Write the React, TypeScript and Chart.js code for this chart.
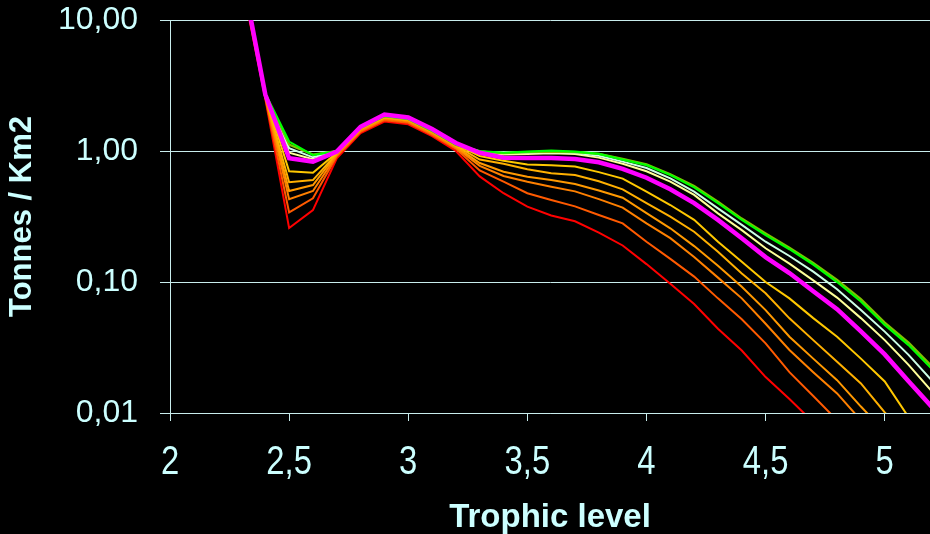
import React, { useEffect, useRef } from "react";
import { Chart, registerables } from "chart.js";

Chart.register(...registerables);

// Trophic levels sampled every 0.1
const TROPHIC_LEVELS = [
  2.3, 2.4, 2.5, 2.6, 2.7, 2.8, 2.9, 3.0, 3.1, 3.2, 3.3, 3.4, 3.5, 3.6, 3.7,
  3.8, 3.9, 4.0, 4.1, 4.2, 4.3, 4.4, 4.5, 4.6, 4.7, 4.8, 4.9, 5.0, 5.1, 5.2,
];

// Biomass (tonnes / km2) per trophic level for each scenario
const SERIES_RED = [
  20, 2.5, 0.258, 0.354, 0.88, 1.37, 1.68, 1.6, 1.3, 1.0, 0.64, 0.476, 0.376, 0.322, 0.291,
  0.238, 0.19, 0.137, 0.097, 0.068, 0.044, 0.03, 0.0188, 0.0128, 0.0085, 0.0056, 0.0036, 0.0023, 0.0015, 0.001,
];
const SERIES_ORANGE_RED = [
  21, 2.55, 0.34, 0.435, 0.91, 1.4, 1.72, 1.64, 1.33, 1.04, 0.71, 0.583, 0.476, 0.423, 0.378,
  0.325, 0.28, 0.203, 0.15, 0.11, 0.075, 0.052, 0.034, 0.0205, 0.0135, 0.0088, 0.0057, 0.0037, 0.0024, 0.0016,
];
const SERIES_ORANGE = [
  21.5, 2.6, 0.428, 0.495, 0.93, 1.43, 1.76, 1.68, 1.36, 1.06, 0.77, 0.644, 0.583, 0.534, 0.492,
  0.429, 0.37, 0.28, 0.216, 0.155, 0.108, 0.075, 0.048, 0.0303, 0.0205, 0.0141, 0.0088, 0.0055, 0.0035, 0.0022,
];
const SERIES_DARK_AMBER = [
  22, 2.62, 0.495, 0.55, 0.95, 1.46, 1.79, 1.71, 1.39, 1.08, 0.81, 0.695, 0.636, 0.6, 0.56,
  0.5, 0.44, 0.336, 0.257, 0.188, 0.133, 0.092, 0.061, 0.0382, 0.026, 0.0178, 0.0112, 0.0072, 0.0046, 0.003,
];
const SERIES_AMBER = [
  22.5, 2.64, 0.577, 0.6, 0.96, 1.48, 1.81, 1.73, 1.41, 1.1, 0.86, 0.8, 0.725, 0.676, 0.656,
  0.588, 0.51, 0.4, 0.315, 0.242, 0.17, 0.116, 0.082, 0.0528, 0.036, 0.0246, 0.0168, 0.0101, 0.0065, 0.0042,
];
const SERIES_YELLOW = [
  23, 2.66, 0.7, 0.683, 0.97, 1.5, 1.84, 1.75, 1.43, 1.12, 0.916, 0.843, 0.79, 0.78, 0.76,
  0.69, 0.615, 0.49, 0.387, 0.298, 0.203, 0.143, 0.1, 0.075, 0.053, 0.0382, 0.026, 0.0174, 0.0093, 0.006,
];
const SERIES_MAGENTA = [
  24, 2.7, 0.88, 0.83, 0.99, 1.53, 1.9, 1.8, 1.47, 1.15, 0.97, 0.89, 0.885, 0.885, 0.87,
  0.82, 0.73, 0.625, 0.51, 0.4, 0.298, 0.216, 0.155, 0.117, 0.085, 0.062, 0.042, 0.028, 0.0175, 0.011,
];
const SERIES_PALE_YELLOW = [
  23.5, 2.7, 0.97, 0.864, 0.99, 1.52, 1.87, 1.78, 1.45, 1.14, 0.98, 0.94, 0.95, 0.96, 0.95,
  0.89, 0.8, 0.7, 0.583, 0.462, 0.334, 0.249, 0.181, 0.138, 0.103, 0.076, 0.053, 0.036, 0.0233, 0.0145,
];
const SERIES_PALE_CYAN = [
  23, 2.72, 1.05, 0.895, 1.0, 1.52, 1.86, 1.77, 1.44, 1.13, 0.99, 0.96, 0.97, 0.98, 0.97,
  0.92, 0.83, 0.742, 0.619, 0.489, 0.365, 0.273, 0.203, 0.158, 0.12, 0.088, 0.061, 0.0418, 0.0278, 0.0175,
];
const SERIES_GREEN = [
  22.5, 2.75, 1.18, 0.93, 1.0, 1.51, 1.85, 1.76, 1.43, 1.12, 1.0, 0.97, 0.99, 1.005, 0.99,
  0.95, 0.86, 0.78, 0.656, 0.528, 0.4, 0.298, 0.228, 0.178, 0.136, 0.1, 0.071, 0.047, 0.033, 0.0215,
];
const SERIES_OLIVE = [
  22, 2.73, 1.12, 0.94, 1.0, 1.5, 1.84, 1.75, 1.42, 1.11, 0.99, 0.965, 0.98, 0.99, 0.98,
  0.95, 0.87, 0.79, 0.665, 0.54, 0.41, 0.305, 0.235, 0.183, 0.14, 0.104, 0.074, 0.049, 0.0345, 0.0225,
];

const X_TICKS = [2, 2.5, 3, 3.5, 4, 4.5, 5];
const Y_TICKS = [0.01, 0.1, 1, 10];

const TEXT_COLOR = "#CCFFFF";
const AXIS_COLOR = "#C8ECEC";
const FONT = "'Liberation Sans', Arial, sans-serif";

// first dataset is painted on top
const LINES: { values: number[]; color: string; width: number }[] = [
  { values: SERIES_MAGENTA, color: "#FF00FF", width: 4.5 },
  { values: SERIES_GREEN, color: "#00FF00", width: 2.2 },
  { values: SERIES_OLIVE, color: "#80C000", width: 2.2 },
  { values: SERIES_PALE_CYAN, color: "#CCFFE6", width: 2 },
  { values: SERIES_PALE_YELLOW, color: "#FFFF99", width: 2 },
  { values: SERIES_YELLOW, color: "#FFC800", width: 2 },
  { values: SERIES_AMBER, color: "#FFB000", width: 2 },
  { values: SERIES_DARK_AMBER, color: "#FF9900", width: 2 },
  { values: SERIES_ORANGE, color: "#FF8000", width: 2 },
  { values: SERIES_ORANGE_RED, color: "#FF5A00", width: 2 },
  { values: SERIES_RED, color: "#FF0000", width: 2 },
];

const comma = (s: string) => s.replace(".", ",");

// x tick labels are set in a condensed face: the regular face squeezed horizontally
const condensedXLabels = {
  id: "condensedXLabels",
  afterDraw(chart: any) {
    const scale = chart.scales.x;
    const ctx = chart.ctx as CanvasRenderingContext2D;
    ctx.save();
    ctx.fillStyle = TEXT_COLOR;
    ctx.font = `40px ${FONT}`;
    ctx.textAlign = "center";
    ctx.textBaseline = "middle";
    const y = scale.top + 50;
    for (const t of scale.ticks) {
      const px = scale.getPixelForValue(t.value);
      ctx.save();
      ctx.translate(px, y);
      ctx.scale(0.82, 1);
      ctx.fillText(comma(String(t.value)), 0, 0);
      ctx.restore();
    }
    ctx.restore();
  },
};

export default function App() {
  const canvasRef = useRef<HTMLCanvasElement | null>(null);

  useEffect(() => {
    const canvas = canvasRef.current;
    if (!canvas) return;
    const chart = new Chart(canvas, {
      type: "line",
      data: {
        datasets: LINES.map((l) => ({
          data: TROPHIC_LEVELS.map((x, i) => ({ x, y: l.values[i] })),
          borderColor: l.color,
          borderWidth: l.width,
          pointRadius: 0,
          tension: 0,
          fill: false,
        })),
      },
      options: {
        animation: false,
        responsive: false,
        devicePixelRatio: 1,
        layout: { padding: { top: 20, right: 0, left: 0, bottom: 0 } },
        plugins: { legend: { display: false }, tooltip: { enabled: false } },
        scales: {
          x: {
            type: "linear",
            min: 2,
            max: 5.19,
            afterBuildTicks: (s: any) => {
              s.ticks = X_TICKS.map((value) => ({ value }));
            },
            afterFit: (s: any) => {
              s.height = 121;
              s.paddingLeft = 0;
              s.paddingRight = 0;
            },
            grid: {
              drawOnChartArea: false,
              drawTicks: true,
              tickLength: 8,
              color: AXIS_COLOR,
            },
            border: { display: true, color: AXIS_COLOR, width: 1 },
            ticks: {
              color: "rgba(0,0,0,0)",
              padding: 18,
              maxRotation: 0,
              font: { family: FONT, size: 34 },
              callback: (v: any) => comma(String(v)),
            },
            title: {
              display: true,
              text: "Trophic level",
              color: TEXT_COLOR,
              font: { family: FONT, size: 33, weight: "bold", lineHeight: 1 },
              padding: { top: 0, bottom: 0 },
            },
          },
          y: {
            type: "logarithmic",
            min: 0.01,
            max: 10,
            afterBuildTicks: (s: any) => {
              s.ticks = Y_TICKS.map((value) => ({ value, major: true }));
            },
            afterFit: (s: any) => {
              s.width = 170;
              s.paddingTop = 0;
              s.paddingBottom = 0;
            },
            grid: {
              drawTicks: true,
              tickLength: 10,
              color: AXIS_COLOR,
              lineWidth: 1,
            },
            border: { display: true, color: AXIS_COLOR, width: 1 },
            ticks: {
              color: TEXT_COLOR,
              padding: 22,
              font: { family: FONT, size: 32, lineHeight: 1.25 },
              callback: (v: any) => comma(Number(v).toFixed(2)),
            },
            title: {
              display: true,
              text: "Tonnes / Km2",
              color: TEXT_COLOR,
              font: { family: FONT, size: 31, weight: "bold", lineHeight: 1.2 },
              padding: { top: 4, bottom: 0 },
            },
          },
        },
      },
      plugins: [condensedXLabels],
    } as any);
    return () => chart.destroy();
  }, []);

  return (
    <div
      style={{
        position: "fixed",
        left: 0,
        top: 0,
        width: 930,
        height: 534,
        background: "#000000",
      }}
    >
      <canvas ref={canvasRef} width={930} height={534} style={{ display: "block" }} />
    </div>
  );
}
